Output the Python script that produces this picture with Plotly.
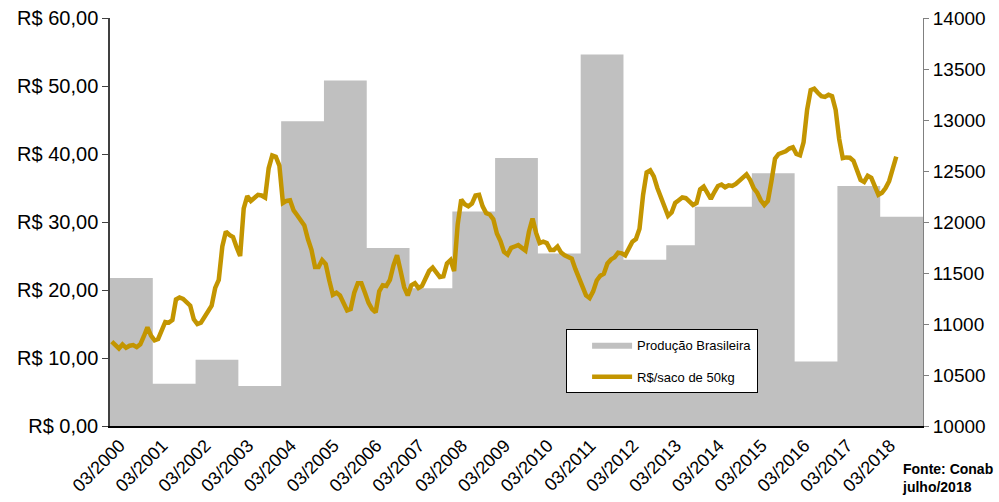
import plotly.graph_objects as go

# ---- Data ----
# Monthly price (R$/saco de 50kg), 03/2000 .. 07/2018
price = [
    12.4, 11.8, 11.4, 12.0, 11.5, 11.8, 11.9, 11.6, 12.0, 13.2, 14.5, 13.3,
    12.6, 12.8, 13.9, 15.3, 15.2, 15.6, 18.6, 18.9, 18.7, 18.3, 17.7, 15.7,
    15.0, 15.2, 16.1, 17.0, 17.7, 20.3, 21.5, 26.4, 28.6, 28.1, 27.8, 26.3,
    25.0, 32.0, 33.8, 33.1, 33.6, 34.0, 33.9, 33.6, 37.9, 39.8, 39.6, 38.3,
    32.8, 33.1, 33.2, 31.7, 31.0, 30.3, 29.5, 27.5, 25.9, 23.4, 23.4, 24.4,
    23.8, 21.4, 19.3, 19.6, 19.2, 18.1, 17.0, 17.2, 19.6, 21.0, 21.0, 19.6,
    18.1, 17.2, 16.7, 19.8, 20.7, 20.6, 21.5, 23.6, 25.1, 22.8, 20.4, 19.2,
    20.7, 21.0, 20.3, 20.6, 21.7, 22.8, 23.3, 22.6, 21.9, 22.0, 23.9, 24.4,
    22.8, 29.6, 33.3, 32.6, 32.3, 32.7, 33.9, 34.0, 32.3, 31.3, 31.1, 30.4,
    28.3, 27.2, 25.6, 25.2, 26.2, 26.4, 26.6, 26.2, 25.8, 28.6, 30.5, 28.4,
    26.9, 27.1, 26.9, 25.9, 25.9, 26.4, 25.5, 25.1, 24.9, 24.6, 23.1, 21.9,
    20.7, 19.2, 18.8, 19.8, 21.4, 22.1, 22.4, 23.9, 24.5, 24.8, 25.5, 25.4,
    25.1, 26.1, 27.1, 27.5, 29.0, 34.0, 37.3, 37.6, 36.7, 35.0, 33.6, 32.3,
    30.9, 31.4, 32.8, 33.2, 33.6, 33.5, 33.1, 32.5, 32.8, 34.8, 35.2, 34.2,
    33.4, 34.4, 35.3, 35.5, 35.1, 35.4, 35.3, 35.6, 36.1, 36.7, 37.0, 36.2,
    35.0, 34.3, 33.2, 32.5, 33.1, 36.0, 39.3, 40.0, 40.2, 40.4, 40.8, 41.0,
    40.0, 39.8, 41.7, 46.5, 49.4, 49.6, 49.0, 48.5, 48.4, 48.7, 48.5, 46.5,
    42.2, 39.4, 39.5, 39.45, 39.0, 37.8, 36.2, 35.9, 36.8, 36.5, 35.3, 34.0,
    34.3, 35.0, 36.0, 37.8, 39.6,
]

# Brazilian production (mil t) per period; period start month index (from 03/2000)
production = [11452, 10413, 10649, 10393, 12988, 13388, 11746, 11350, 12103, 12627,
              11690, 13643, 11631, 11772, 12149, 12477, 10632, 12352, 12051]
period_start = [0, 12, 24, 36, 48, 60, 72, 84, 96, 108, 120, 132, 144, 156, 164,
                180, 192, 204, 216]
period_end_final = 228

tick_labels = ["03/%d" % y for y in range(2000, 2019)]
tick_months = [12 * i for i in range(len(tick_labels))]

price_ticks = [0, 10, 20, 30, 40, 50, 60]
price_tick_text = ["R$ %d,00" % v for v in price_ticks]

# ---- Build ----
# step outline of the production periods (edges at half-month boundaries)
step_x = [s - 0.5 for s in period_start] + [period_end_final - 0.5]
step_y = production + [production[-1]]
months = list(range(len(price)))

font_family = "Liberation Sans, Arial, sans-serif"

fig = go.Figure()
fig.add_trace(go.Scatter(
    x=step_x, y=step_y, mode="lines",
    line=dict(shape="hv", color="#A6A6A6", width=0),
    fill="tozeroy", fillcolor="#C0C0C0",
    name="Produção Brasileira",
    legendgroup="a",
    yaxis="y",
    hoverinfo="skip",
))
fig.add_trace(go.Scatter(
    x=months, y=price, mode="lines",
    line=dict(color="#C39500", width=4.5),
    name="R$/saco de 50kg",
    legendgroup="b",
    yaxis="y2",
))

fig.update_layout(
    width=999, height=502,
    margin=dict(l=110, r=76, t=18, b=76),
    paper_bgcolor="white", plot_bgcolor="white",
    font=dict(family=font_family, color="black"),
    showlegend=True,
    xaxis=dict(
        range=[-0.5, 227.5], automargin=False,
        tickmode="array", tickvals=tick_months, ticktext=tick_labels,
        tickangle=-45, tickfont=dict(size=18), ticklabelshift=8,
        showgrid=False, zeroline=False,
        showline=True, linecolor="black", linewidth=2,
        ticks="",
    ),
    yaxis=dict(
        side="right", range=[10000, 14000], automargin=False,
        tickmode="array", tickvals=list(range(10000, 14001, 500)),
        tickformat="d", tickfont=dict(size=19),
        showgrid=False, zeroline=False,
        showline=True, linecolor="#808080", linewidth=1,
        ticks="outside", ticklen=5, tickcolor="#808080",
    ),
    yaxis2=dict(
        side="left", overlaying="y", range=[0, 60], automargin=False,
        tickmode="array", tickvals=price_ticks, ticktext=price_tick_text,
        tickfont=dict(size=20),
        showgrid=False, zeroline=False,
        showline=True, linecolor="#404040", linewidth=1.5,
        ticks="outside", ticklen=6, tickcolor="#404040",
    ),
    legend=dict(
        x=0.561, y=0.238, xanchor="left", yanchor="top",
        bgcolor="white", bordercolor="black", borderwidth=1,
        font=dict(size=13),
        traceorder="grouped", tracegroupgap=12,
        itemwidth=40, indentation=20,
    ),
    annotations=[dict(
        text="<b>Fonte: Conab<br>julho/2018</b>",
        xref="paper", yref="paper", x=0.972, y=-0.08,
        xanchor="left", yanchor="top", align="left",
        showarrow=False, font=dict(size=14),
    )],
)

fig.write_html("out.html", config={"displayModeBar": False},
               post_script="document.body.style.margin='0px';")
